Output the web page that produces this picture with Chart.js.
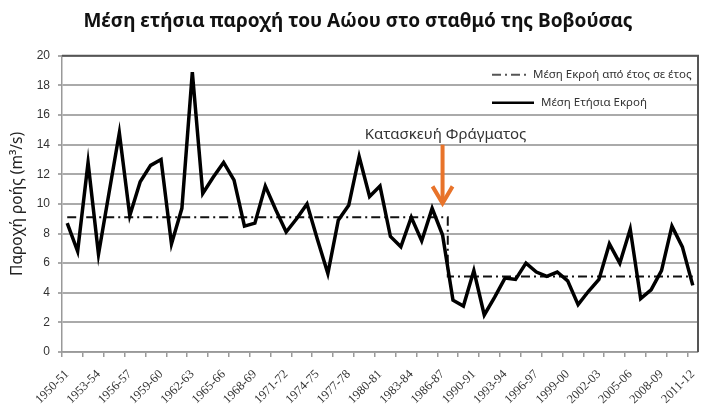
<!DOCTYPE html>
<html>
<head>
<meta charset="utf-8">
<script src="https://cdn.jsdelivr.net/npm/chart.js@4.4.1/dist/chart.umd.min.js"></script>
<style>
  body { margin: 0; background: #fff; }
</style>
</head>
<body>
<canvas id="flowChart" width="703" height="415"></canvas>
<script>
// Annual flow of Aoos at Vovousa

var years = ["1950-51","1951-52","1952-53","1953-54","1954-55","1955-56","1956-57","1957-58","1958-59","1959-60",
	"1960-61","1961-62","1962-63","1963-64","1964-65","1965-66","1966-67","1967-68","1968-69","1969-70",
	"1970-71","1971-72","1972-73","1973-74","1974-75","1975-76","1976-77","1977-78","1978-79","1979-80",
	"1980-81","1981-82","1982-83","1983-84","1984-85","1985-86","1986-87","1987-88","1988-89",
	"1990-91","1991-92","1992-93","1993-94","1994-95","1995-96","1996-97","1997-98","1998-99","1999-00",
	"2000-01","2001-02","2002-03","2003-04","2004-05","2005-06","2006-07","2007-08","2008-09","2009-10",
	"2010-11","2011-12"];

var tickLabels = ["1950-51","1953-54","1956-57","1959-60","1962-63","1965-66","1968-69","1971-72","1974-75",
	"1977-78","1980-81","1983-84","1986-87","1990-91","1993-94","1996-97","1999-00","2002-03","2005-06",
	"2008-09","2011-12"];

var annualFlow = [8.7, 6.8, 12.8, 6.6, 10.7, 14.8, 9.2, 11.5, 12.6, 13.0,
	7.3, 9.7, 18.9, 10.7, 11.8, 12.8, 11.6, 8.5, 8.7, 11.2,
	9.6, 8.1, 9.0, 10.0, 7.6, 5.3, 8.9, 9.9, 13.2, 10.5,
	11.2, 7.8, 7.1, 9.1, 7.5, 9.7, 7.9, 3.5, 3.1,
	5.5, 2.5, 3.7, 5.0, 4.9, 6.0, 5.4, 5.1, 5.4, 4.8,
	3.2, 4.1, 4.9, 7.3, 6.0, 8.3, 3.6, 4.2, 5.5, 8.5,
	7.1, 4.5];

var periodMean = [9.1, 9.1, 9.1, 9.1, 9.1, 9.1, 9.1, 9.1, 9.1, 9.1,
	9.1, 9.1, 9.1, 9.1, 9.1, 9.1, 9.1, 9.1, 9.1, 9.1,
	9.1, 9.1, 9.1, 9.1, 9.1, 9.1, 9.1, 9.1, 9.1, 9.1,
	9.1, 9.1, 9.1, 9.1, 9.1, 9.1, 9.1, 5.1, 5.1,
	5.1, 5.1, 5.1, 5.1, 5.1, 5.1, 5.1, 5.1, 5.1, 5.1,
	5.1, 5.1, 5.1, 5.1, 5.1, 5.1, 5.1, 5.1, 5.1, 5.1,
	5.1, 5.1];

var damIndex = 36;

// legend, dam arrow and frame drawn by hand
var extras = {
	id: 'extras',
	afterDatasetsDraw: function(chart) {
		var c = chart.ctx, a = chart.chartArea;
		var xs = chart.scales.x, ys = chart.scales.y;
		c.save();

		// frame top / right
		c.strokeStyle = '#555';
		c.lineWidth = 2;
		c.beginPath();
		c.moveTo(a.left, a.top);
		c.lineTo(a.right, a.top);
		c.lineTo(a.right, a.bottom);
		c.stroke();

		// legend
		var lx = a.right - 206;
		var ds = chart.data.datasets;
		c.font = '11.5px "Noto Sans"';
		c.fillStyle = '#333';
		c.textBaseline = 'middle';
		c.textAlign = 'left';

		c.strokeStyle = '#555';
		c.lineWidth = 2;
		c.setLineDash(ds[1].borderDash);
		c.beginPath();
		c.moveTo(lx, a.top + 19);
		c.lineTo(lx + 36, a.top + 19);
		c.stroke();
		c.fillText(ds[1].label, lx + 41, a.top + 19);

		c.setLineDash([]);
		c.strokeStyle = '#000';
		c.lineWidth = 2.5;
		c.beginPath();
		c.moveTo(lx, a.top + 47);
		c.lineTo(lx + 42, a.top + 47);
		c.stroke();
		c.fillText(ds[0].label, lx + 49, a.top + 47);

		// dam annotation
		var x = xs.getPixelForValue(damIndex);
		c.font = '15px "Noto Sans"';
		c.fillStyle = '#333';
		c.textAlign = 'center';
		c.fillText('Κατασκευή Φράγματος', x + 3, ys.getPixelForValue(14.7));

		var yTop = ys.getPixelForValue(14.0), yTip = ys.getPixelForValue(9.9);
		c.strokeStyle = '#E8732A';
		c.lineWidth = 4;
		c.lineJoin = 'miter';
		c.beginPath();
		c.moveTo(x, yTop);
		c.lineTo(x, yTip - 2);
		c.stroke();
		c.beginPath();
		c.moveTo(x - 10, yTip - 19);
		c.lineTo(x, yTip - 2);
		c.lineTo(x + 10, yTip - 19);
		c.stroke();

		c.restore();
	}
};

var ctx = document.getElementById("flowChart").getContext('2d');
var flowChart = new Chart(ctx, {
	type: 'line',
	data: {
		labels: years,
		datasets: [{
			label: 'Μέση Ετήσια Εκροή',
			data: annualFlow,
			fill: false,
			borderColor: '#000',
			borderWidth: 3.5,
			borderJoinStyle: 'miter',
			pointRadius: 0,
			tension: 0
		},
		{
			label: 'Μέση Εκροή από έτος σε έτος',
			data: periodMean,
			fill: false,
			borderColor: '#111',
			borderWidth: 2,
			borderDash: [9, 4, 2, 4],
			stepped: 'middle',
			pointRadius: 0
		}]
	},
	options: {
		responsive: false,
		animation: false,
		layout: { padding: { left: 18, right: 5 } },
		plugins: {
			legend: { display: false },
			tooltip: { enabled: false },
			title: {
				display: true,
				text: 'Μέση ετήσια παροχή του Αώου στο σταθμό της Βοβούσας',
				font: { family: '"Noto Sans"', size: 19, weight: 'bold' },
				color: '#111',
				padding: { top: 10, bottom: 23 }
			}
		},
		scales: {
			x: {
				offset: true,
				afterFit: function(s) {
					s.height = 63;
					s.paddingLeft = 0;
					s.paddingRight = 0;
				},
				border: { color: '#999', width: 1.5 },
				grid: {
					offset: true,
					drawOnChartArea: false,
					tickLength: 5,
					lineWidth: 1.5,
					color: function(c) { return c.index % 2 === 0 ? '#999' : 'rgba(0,0,0,0)'; }
				},
				ticks: {
					autoSkip: false,
					maxRotation: 45,
					minRotation: 45,
					padding: 10,
					font: { family: '"Liberation Serif"', size: 12.5 },
					color: '#333',
					callback: function(v) {
						var l = this.getLabelForValue(v);
						return tickLabels.indexOf(l) >= 0 ? l : '';
					}
				}
			},
			y: {
				min: 0,
				max: 20,
				afterFit: function(s) { s.width = 44; },
				border: { color: '#999', width: 1.5 },
				grid: { color: '#aaa', lineWidth: 2, tickLength: 4 },
				ticks: {
					stepSize: 2,
					padding: 8,
					font: { family: '"Liberation Sans"', size: 12 },
					color: '#333'
				},
				title: {
					display: true,
					text: 'Παροχή ροής (m³/s)',
					font: { family: '"Noto Sans"', size: 15.5 },
					color: '#222',
					padding: { top: -10, bottom: 2 }
				}
			}
		}
	},
	plugins: [extras]
});
</script>
</body>
</html>
